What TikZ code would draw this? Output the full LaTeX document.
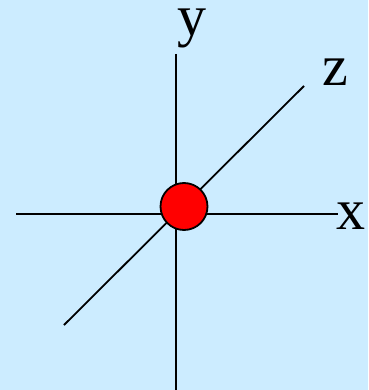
\documentclass[tikz,border=0pt]{standalone}
\usepackage{fontspec}
\setmainfont{Liberation Serif}
\definecolor{bgblue}{RGB}{204,236,255}
\definecolor{ballred}{RGB}{255,0,0}
\begin{document}
\begin{tikzpicture}[x=1pt,y=-1pt,
  axis/.style={line width=1.8pt,black},
  lbl/.style={anchor=base,inner sep=0pt,font=\fontsize{58}{58}\selectfont}]
\fill[bgblue] (0,0) rectangle (368,390);
\useasboundingbox (0,0) rectangle (368,390);
\coordinate (xl) at (16,214);
\coordinate (xr) at (338,214);
\coordinate (yt) at (176,54);
\coordinate (yb) at (176,390);
\coordinate (zl) at (64,325);
\coordinate (zr) at (304,86);
\draw[axis] (xl) -- (xr);
\draw[axis] (yt) -- (yb);
\draw[axis] (zl) -- (zr);
\node[circle,draw=black,line width=1.8pt,fill=ballred,minimum size=47pt,inner sep=0pt] (ball) at (184,206.5) {};
\node[lbl] (ylab) at (192,36) {y};
\node[lbl] (zlab) at (335,86) {z};
\node[lbl] (xlab) at (351,229) {x};
\end{tikzpicture}
\end{document}
